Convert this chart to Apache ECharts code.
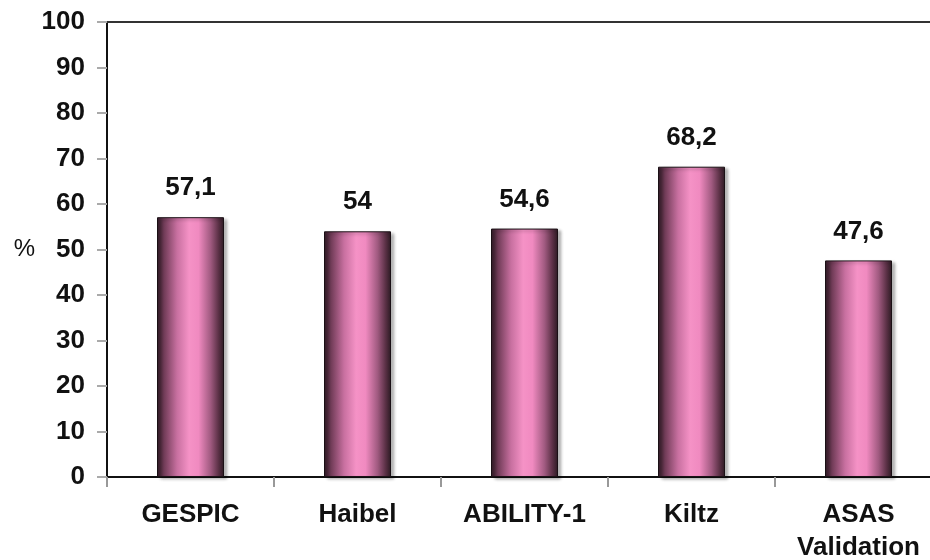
<!DOCTYPE html>
<html><head><meta charset="utf-8">
<script src="https://cdn.jsdelivr.net/npm/echarts@6/dist/echarts.min.js"></script>
<style>html,body{margin:0;padding:0;background:#fff}#c{width:930px;height:560px}</style>
</head><body><div id="c"></div>
<script>
const categories = ['GESPIC', 'Haibel', 'ABILITY-1', 'Kiltz', 'ASAS\nValidation'];
const values = [57.1, 54, 54.6, 68.2, 47.6];
const yTicks = [0, 10, 20, 30, 40, 50, 60, 70, 80, 90, 100];

const chart = echarts.init(document.getElementById('c'), null, {renderer: 'canvas'});
const font = '"Liberation Sans", Arial, sans-serif';
const barColor = new echarts.graphic.LinearGradient(0, 0, 1, 0, [
  {offset: 0, color: '#2b1822'},
  {offset: 0.1, color: '#6e3a55'},
  {offset: 0.3, color: '#c870a0'},
  {offset: 0.48, color: '#f592c6'},
  {offset: 0.62, color: '#f08ac0'},
  {offset: 0.8, color: '#a05a80'},
  {offset: 0.92, color: '#5a3045'},
  {offset: 1, color: '#2b1a22'}
]);
chart.setOption({
  animation: false,
  backgroundColor: '#fff',
  grid: {left: 107, top: 22, width: 835, height: 455, containLabel: false, outerBoundsMode: 'none'},
  xAxis: [{
    type: 'category', data: categories, position: 'bottom',
    axisLine: {show: true, lineStyle: {color: '#111', width: 2}},
    axisTick: {show: true, alignWithLabel: false, length: 10, lineStyle: {color: '#999', width: 2}},
    axisLabel: {color: '#111', fontFamily: font, fontWeight: 'bold', fontSize: 26, lineHeight: 33, margin: 21, interval: 0}
  }, {
    type: 'category', data: categories, position: 'top',
    axisLine: {show: true, lineStyle: {color: '#333', width: 2}},
    axisTick: {show: false}, axisLabel: {show: false}
  }],
  yAxis: {
    type: 'value', min: yTicks[0], max: yTicks[yTicks.length - 1], interval: 10,
    name: '%', nameLocation: 'middle', nameRotate: 0, nameGap: 72,
    nameTextStyle: {color: '#111', fontFamily: font, fontWeight: 'normal', fontSize: 24},
    axisLine: {show: true, lineStyle: {color: '#111', width: 2}},
    axisTick: {show: true, length: 10, lineStyle: {color: '#aaa', width: 2}},
    splitLine: {show: false},
    axisLabel: {color: '#111', fontFamily: font, fontWeight: 'bold', fontSize: 26, margin: 22}
  },
  series: [{
    type: 'bar', data: values, barWidth: 67,
    itemStyle: {color: barColor, borderColor: '#1a1015', borderWidth: 1,
      shadowColor: 'rgba(0,0,0,0.3)', shadowBlur: 3, shadowOffsetX: 3, shadowOffsetY: 2},
    label: {show: true, position: 'top', distance: 16, color: '#111', fontFamily: font, fontWeight: 'bold', fontSize: 26,
      formatter: p => String(p.value).replace('.', ',')}
  }]
});
</script></body></html>
